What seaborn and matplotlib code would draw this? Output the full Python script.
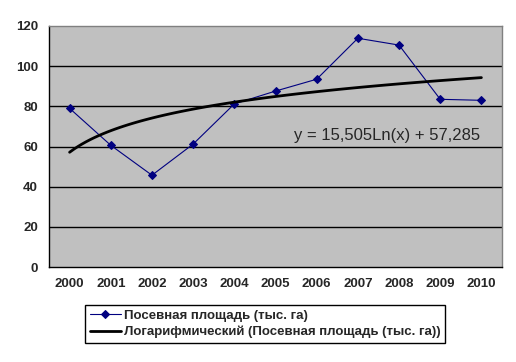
import numpy as np
import pandas as pd
import matplotlib
matplotlib.use("Agg")
import matplotlib.pyplot as plt
import seaborn as sns

# данные
years = ["2000", "2001", "2002", "2003", "2004", "2005", "2006", "2007", "2008", "2009", "2010"]
area = [79.0, 60.6, 45.7, 61.2, 81.2, 87.6, 93.5, 113.9, 110.5, 83.5, 83.0]
series_label = "Посевная площадь (тыс. га)"
trend_label = "Логарифмический (Посевная площадь (тыс. га))"
equation = "y = 15,505Ln(x) + 57,285"
y_ticks = [0, 20, 40, 60, 80, 100, 120]

df = pd.DataFrame({"x": np.arange(1, len(years) + 1), "area": area})

sns.set_style("white")
plt.rcParams["font.family"] = ["Liberation Sans", "DejaVu Sans"]

fig = plt.figure(figsize=(5.16, 3.62), dpi=100)
ax = fig.add_axes([49 / 516, 1 - 267 / 362, 453 / 516, 241 / 362])
ax.set_facecolor("#C0C0C0")

# линия данных
sns.lineplot(data=df, x="x", y="area", ax=ax, color="#000080", lw=0.8,
             marker="D", markersize=3.8, markeredgecolor="#000080", label=series_label)
# логарифмический тренд
sns.regplot(data=df, x="x", y="area", ax=ax, logx=True, ci=None, scatter=False,
            line_kws={"color": "black", "lw": 2}, label=trend_label)

ax.set_xlim(0.5, len(years) + 0.5)
ax.set_ylim(0, 120)
ax.set_yticks(y_ticks)
ax.set_yticklabels([str(v) for v in y_ticks])
ax.set_xticks(df["x"])
ax.set_xticklabels(years)
ax.set_xticks(np.arange(0.5, len(years) + 1, 1), minor=True)
ax.tick_params(axis="x", which="major", length=0, pad=8, labelsize=9.5)
ax.tick_params(axis="x", which="minor", length=4, width=1, color="black", direction="out")
ax.tick_params(axis="y", length=4, width=1, color="black", direction="out", pad=4, labelsize=9.5)
for lab in ax.get_xticklabels() + ax.get_yticklabels():
    lab.set_fontweight("bold")
ax.set_xlabel("")
ax.set_ylabel("")

for v in y_ticks[1:-1]:
    ax.axhline(v, color="black", lw=1, zorder=0.5)

for s in ["top", "right"]:
    ax.spines[s].set_color("#808080")
    ax.spines[s].set_linewidth(1)
for s in ["left", "bottom"]:
    ax.spines[s].set_color("black")
    ax.spines[s].set_linewidth(1)

ax.text(10.97, 65.4, equation, ha="right", va="center", fontsize=12)

handles, labels = ax.get_legend_handles_labels()
if ax.get_legend():
    ax.get_legend().remove()
leg = fig.legend(handles, labels, loc="upper left", bbox_to_anchor=(85 / 516, 1 - 305 / 362),
                 frameon=True, fancybox=False, edgecolor="black", framealpha=1,
                 prop={"weight": "bold", "size": 9.5}, handlelength=2.4, handletextpad=0.2,
                 borderpad=0.35, labelspacing=0.3, borderaxespad=0)
leg.get_frame().set_linewidth(1)

fig.savefig("out.png", dpi=100)
